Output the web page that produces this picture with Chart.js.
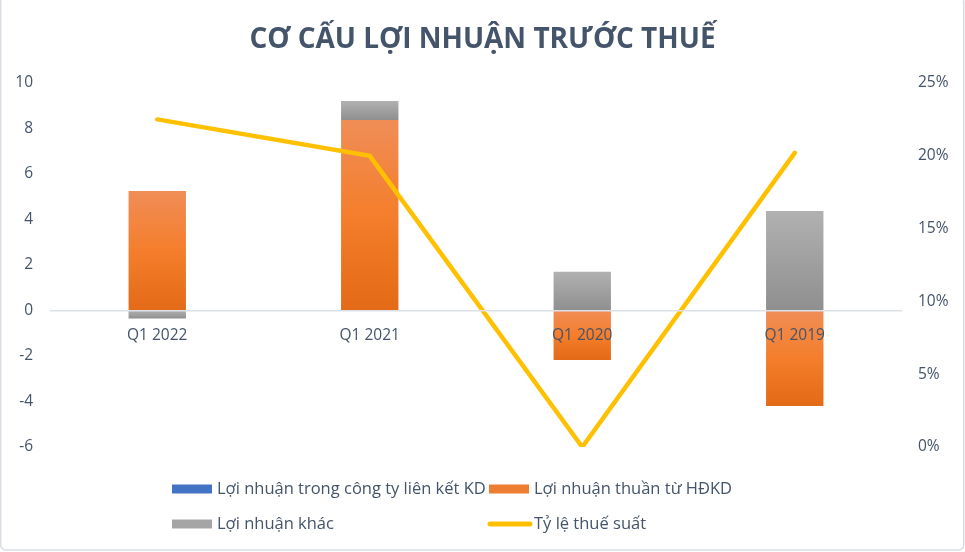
<!DOCTYPE html>
<html>
<head>
<meta charset="utf-8">
<script src="https://cdn.jsdelivr.net/npm/chart.js@4/dist/chart.umd.min.js"></script>
<style>
html,body{margin:0;padding:0;background:#fff;}
canvas{display:block;}
</style>
</head>
<body>
<canvas id="c" width="965" height="552"></canvas>
<script>
const categories = ['Q1 2022', 'Q1 2021', 'Q1 2020', 'Q1 2019'];
const lnLienKet = [0, 0, 0, 0];
const lnThuan = [5.25, 8.37, -2.18, -4.2];
const lnKhac = [-0.35, 0.84, 1.7, 4.37];
const thueSuat = [22.5, 20.0, 0.0, 20.2];
const leftTickValues = [-6, -4, -2, 0, 2, 4, 6, 8, 10];
const rightTickValues = [0, 5, 10, 15, 20, 25];
const seriesNames = ['Lợi nhuận trong công ty liên kết KD', 'Lợi nhuận thuần từ HĐKD', 'Lợi nhuận khác', 'Tỷ lệ thuế suất'];
const title = 'CƠ CẤU LỢI NHUẬN TRƯỚC THUẾ';

const TEXT = '#44546A';
const FONT = "'Open Sans', 'Noto Sans', sans-serif";

function spanFor(which, i) {
  if (which === 'orange') return [0, lnThuan[i]];
  const o = lnThuan[i], g = lnKhac[i];
  if (Math.sign(o) === Math.sign(g)) return [o, o + g];
  return [0, g];
}
function gradientFill(which, stops, fallback) {
  return function (ctx) {
    const chart = ctx.chart;
    if (ctx.type !== 'data' || !chart.chartArea || !chart.scales.y) return fallback;
    const s = spanFor(which, ctx.dataIndex);
    const y = chart.scales.y;
    const p1 = y.getPixelForValue(s[0]), p2 = y.getPixelForValue(s[1]);
    const top = Math.min(p1, p2), bot = Math.max(p1, p2);
    if (!isFinite(top) || bot - top < 0.5) return fallback;
    const g = chart.ctx.createLinearGradient(0, top, 0, bot);
    stops.forEach(st => g.addColorStop(st[0], st[1]));
    return g;
  };
}

const legendPlugin = {
  id: 'gridLegend',
  afterDraw(chart) {
    const c = chart.ctx;
    c.save();
    c.strokeStyle = '#D9DDE3';
    c.lineWidth = 1.5;
    c.beginPath();
    if (c.roundRect) c.roundRect(0.75, -3, 963, 553, 5); else c.rect(0.75, -3, 963, 553);
    c.stroke();

    c.font = '16.5px ' + FONT;
    c.textBaseline = 'middle';
    const rows = [489, 524];
    const cols = [172, 489];
    const items = [
      {type: 'box', color: '#4472C4', col: 0, row: 0},
      {type: 'box', color: '#ED7D31', col: 1, row: 0},
      {type: 'box', color: '#A5A5A5', col: 0, row: 1},
      {type: 'line', color: '#FFC000', col: 1, row: 1}
    ];
    items.forEach((it, k) => {
      const x = cols[it.col], y = rows[it.row];
      if (it.type === 'box') {
        c.fillStyle = it.color;
        c.fillRect(x, y - 4.5, 40, 9);
      } else {
        c.strokeStyle = it.color;
        c.lineWidth = 5;
        c.lineCap = 'round';
        c.beginPath();
        c.moveTo(x + 1, y);
        c.lineTo(x + 41, y);
        c.stroke();
      }
      c.fillStyle = TEXT;
      c.textAlign = 'left';
      c.fillText(seriesNames[k], x + 45, y);
    });
    c.restore();
  }
};

new Chart(document.getElementById('c'), {
  data: {
    labels: categories,
    datasets: [
      {
        type: 'line', label: seriesNames[3], data: thueSuat, yAxisID: 'y1',
        borderColor: '#FFC000', borderWidth: 4.5, pointRadius: 0, tension: 0,
        borderCapStyle: 'round', borderJoinStyle: 'miter', fill: false, order: 0
      },
      {
        type: 'bar', label: seriesNames[0], data: lnLienKet, yAxisID: 'y',
        backgroundColor: '#4472C4', order: 1, stack: 's'
      },
      {
        type: 'bar', label: seriesNames[1], data: lnThuan, yAxisID: 'y', order: 1, stack: 's',
        backgroundColor: gradientFill('orange', [[0, '#F08D57'], [0.5, '#F47E2B'], [1, '#E36A17']], '#ED7D31')
      },
      {
        type: 'bar', label: seriesNames[2], data: lnKhac, yAxisID: 'y', order: 1, stack: 's',
        backgroundColor: gradientFill('gray', [[0, '#B1B1B1'], [1, '#8F8F8F']], '#A5A5A5')
      }
    ]
  },
  options: {
    responsive: false,
    animation: false,
    devicePixelRatio: 1,
    layout: {padding: {top: 0, left: 0, right: 0, bottom: 105}},
    datasets: {bar: {barPercentage: 0.27, categoryPercentage: 1, borderWidth: 0}},
    plugins: {
      legend: {display: false},
      tooltip: {enabled: false},
      title: {
        display: true, text: title, color: TEXT,
        font: {family: FONT, size: 28, weight: 'bold', lineHeight: 1.2},
        padding: {top: 23, bottom: 26.4}
      }
    },
    scales: {
      x: {
        stacked: true,
        position: {y: 0},
        grid: {display: false, drawTicks: false},
        border: {display: true, color: '#DCE1E7', width: 1.5, z: 1},
        ticks: {color: TEXT, font: {family: FONT, size: 15.5}, padding: 16, maxRotation: 0, z: 1}
      },
      y: {
        stacked: true,
        position: 'left',
        min: -6, max: 10,
        afterBuildTicks: s => { s.ticks = leftTickValues.map(v => ({value: v})); },
        afterFit: s => { s.width = 51; },
        grid: {display: false, drawTicks: false},
        border: {display: false},
        ticks: {color: TEXT, font: {family: FONT, size: 15.5}, padding: 18}
      },
      y1: {
        position: 'right',
        min: 0, max: 25,
        afterBuildTicks: s => { s.ticks = rightTickValues.map(v => ({value: v})); },
        afterFit: s => { s.width = 64; },
        grid: {display: false, drawTicks: false},
        border: {display: false},
        ticks: {color: TEXT, font: {family: FONT, size: 15.5}, padding: 17, callback: v => v + '%'}
      }
    }
  },
  plugins: [legendPlugin]
});
</script>
</body>
</html>
